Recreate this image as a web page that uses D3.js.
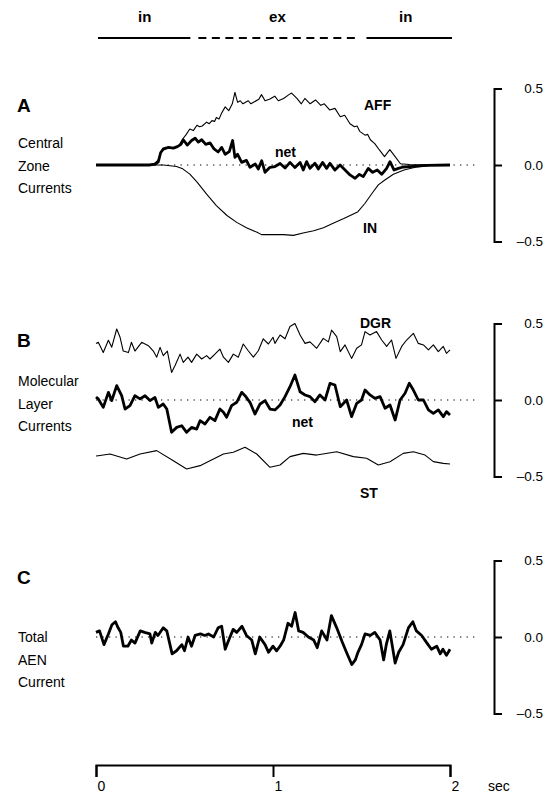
<!DOCTYPE html>
<html><head><meta charset="utf-8">
<script src="https://cdn.jsdelivr.net/npm/d3@7"></script>
<style>
body{margin:0;background:#fff}
svg{display:block}
text{font-family:"Liberation Sans",Arial,Helvetica,sans-serif;fill:#000}
</style>
</head><body>
<svg id="chart" width="553" height="799"></svg>
<script>
// ---------------- data ----------------
const timeTicks = [0, 1, 2];
const timeUnit = "sec";
const yTicks = [0.5, 0.0, -0.5];

const phaseLabels = ["in", "ex", "in"];
const phaseStart = [0, 0.55, 1.5];
const phaseEnd = [0.55, 1.5, 2.0];

const panelLetters = ["A", "B", "C"];
const panelTitles = [["Central", "Zone", "Currents"], ["Molecular", "Layer", "Currents"], ["Total", "AEN", "Current"]];

// Panel A: central zone currents  [time (s), current]
const aAFF = [[0,0],[0.32,0],[0.35,0.03],[0.37,0.09],[0.40,0.11],[0.44,0.11],[0.47,0.13],[0.49,0.17],[0.51,0.2],[0.53,0.235],[0.55,0.225],[0.57,0.26],[0.585,0.25],[0.60,0.255],[0.625,0.28],[0.64,0.27],[0.655,0.29],[0.67,0.285],[0.68,0.31],[0.695,0.30],[0.71,0.34],[0.73,0.38],[0.75,0.355],[0.77,0.40],[0.785,0.475],[0.80,0.41],[0.815,0.42],[0.83,0.40],[0.86,0.42],[0.875,0.40],[0.89,0.41],[0.92,0.43],[0.935,0.46],[0.955,0.42],[0.98,0.43],[1.01,0.45],[1.03,0.42],[1.06,0.435],[1.09,0.46],[1.105,0.47],[1.135,0.435],[1.16,0.40],[1.18,0.435],[1.21,0.40],[1.24,0.425],[1.27,0.39],[1.29,0.40],[1.32,0.36],[1.35,0.37],[1.38,0.315],[1.405,0.325],[1.435,0.27],[1.46,0.25],[1.475,0.255],[1.49,0.22],[1.52,0.195],[1.535,0.2],[1.55,0.165],[1.575,0.14],[1.60,0.10],[1.63,0.055],[1.66,0.10],[1.69,0.055],[1.72,0.008],[1.77,0.003],[2.0,0.002]];
const aIN = [[0,0],[0.38,0],[0.455,-0.01],[0.49,-0.025],[0.53,-0.06],[0.57,-0.11],[0.625,-0.19],[0.68,-0.265],[0.74,-0.33],[0.795,-0.375],[0.85,-0.41],[0.91,-0.44],[0.935,-0.455],[0.98,-0.455],[1.06,-0.455],[1.115,-0.46],[1.17,-0.445],[1.23,-0.43],[1.285,-0.41],[1.34,-0.38],[1.40,-0.35],[1.445,-0.325],[1.48,-0.305],[1.52,-0.25],[1.56,-0.185],[1.595,-0.13],[1.63,-0.10],[1.68,-0.06],[1.74,-0.033],[1.81,-0.013],[1.905,-0.002],[2.0,0]];
const aNet = [[0,0],[0.30,0],[0.333,0.005],[0.352,0.02],[0.365,0.08],[0.38,0.105],[0.41,0.115],[0.437,0.11],[0.46,0.12],[0.48,0.135],[0.493,0.165],[0.516,0.13],[0.54,0.16],[0.56,0.175],[0.578,0.15],[0.597,0.165],[0.62,0.135],[0.644,0.145],[0.667,0.105],[0.69,0.085],[0.71,0.115],[0.73,0.07],[0.753,0.087],[0.772,0.16],[0.785,0.05],[0.80,0.07],[0.823,0.017],[0.85,0.03],[0.87,-0.015],[0.90,0.007],[0.917,-0.026],[0.936,0.028],[0.955,-0.048],[0.983,-0.015],[1.011,-0.01],[1.04,0.01],[1.068,-0.02],[1.096,0.017],[1.124,-0.017],[1.153,0.017],[1.171,-0.033],[1.19,0.022],[1.209,-0.022],[1.237,0.011],[1.256,-0.026],[1.28,0.017],[1.303,-0.022],[1.322,0.011],[1.35,-0.033],[1.379,0],[1.407,-0.033],[1.435,-0.065],[1.464,-0.087],[1.488,-0.061],[1.51,-0.076],[1.538,-0.022],[1.563,-0.048],[1.589,-0.033],[1.614,-0.061],[1.642,-0.022],[1.661,0.022],[1.684,-0.033],[1.708,-0.022],[1.736,-0.013],[1.793,-0.009],[1.868,-0.002],[2.0,0]];

// Panel B: molecular layer currents
const bDGR = [[0.0,0.37],[0.013,0.377],[0.041,0.31],[0.07,0.39],[0.089,0.345],[0.117,0.464],[0.136,0.41],[0.154,0.32],[0.183,0.31],[0.20,0.377],[0.22,0.32],[0.258,0.377],[0.296,0.355],[0.324,0.32],[0.343,0.28],[0.362,0.344],[0.38,0.29],[0.403,0.32],[0.427,0.18],[0.446,0.224],[0.475,0.30],[0.493,0.246],[0.52,0.28],[0.54,0.246],[0.569,0.30],[0.597,0.268],[0.625,0.29],[0.644,0.268],[0.672,0.30],[0.70,0.333],[0.72,0.28],[0.748,0.246],[0.776,0.30],[0.804,0.28],[0.832,0.366],[0.86,0.322],[0.889,0.28],[0.917,0.322],[0.945,0.40],[0.974,0.366],[1.00,0.41],[1.011,0.37],[1.04,0.425],[1.068,0.40],[1.096,0.48],[1.124,0.50],[1.153,0.425],[1.181,0.37],[1.209,0.38],[1.247,0.338],[1.284,0.403],[1.313,0.38],[1.331,0.457],[1.36,0.414],[1.38,0.316],[1.407,0.36],[1.444,0.272],[1.473,0.338],[1.50,0.36],[1.52,0.447],[1.548,0.425],[1.585,0.447],[1.614,0.392],[1.642,0.35],[1.67,0.392],[1.695,0.272],[1.727,0.35],[1.755,0.392],[1.793,0.436],[1.821,0.37],[1.85,0.36],[1.878,0.327],[1.906,0.36],[1.934,0.316],[1.962,0.35],[1.98,0.305],[2.0,0.327]];
const bNet = [[0.0,0.02],[0.013,0.007],[0.041,-0.048],[0.07,0.05],[0.089,-0.004],[0.117,0.094],[0.145,0.028],[0.164,-0.059],[0.192,-0.037],[0.22,0.028],[0.249,0.007],[0.277,0.028],[0.305,-0.004],[0.333,0.017],[0.352,-0.048],[0.38,-0.026],[0.40,-0.059],[0.427,-0.211],[0.456,-0.179],[0.484,-0.168],[0.512,-0.211],[0.54,-0.179],[0.569,-0.19],[0.588,-0.135],[0.616,-0.157],[0.644,-0.113],[0.672,-0.135],[0.70,-0.059],[0.72,-0.08],[0.738,-0.113],[0.766,-0.037],[0.795,-0.015],[0.823,0.05],[0.842,0.028],[0.87,-0.015],[0.898,-0.092],[0.927,-0.026],[0.955,-0.004],[0.983,-0.059],[1.011,-0.065],[1.04,-0.033],[1.068,0.022],[1.096,0.087],[1.124,0.163],[1.153,0.054],[1.181,0.033],[1.209,0.022],[1.237,-0.011],[1.265,0.033],[1.294,0],[1.322,0.109],[1.35,0.098],[1.38,-0.044],[1.416,0],[1.444,-0.109],[1.473,-0.022],[1.50,0],[1.52,0.065],[1.548,0.033],[1.576,0.011],[1.605,0.022],[1.633,-0.054],[1.661,-0.033],[1.69,-0.131],[1.718,0],[1.746,0.044],[1.77,0.109],[1.793,0.065],[1.821,0],[1.85,0],[1.878,-0.065],[1.906,-0.087],[1.934,-0.065],[1.962,-0.109],[1.98,-0.076],[2.0,-0.098]];
const bST = [[0.0,-0.366],[0.013,-0.364],[0.079,-0.353],[0.173,-0.386],[0.249,-0.353],[0.343,-0.331],[0.437,-0.397],[0.512,-0.451],[0.588,-0.429],[0.644,-0.397],[0.72,-0.353],[0.776,-0.342],[0.842,-0.309],[0.908,-0.353],[0.983,-0.44],[1.04,-0.425],[1.096,-0.37],[1.171,-0.349],[1.247,-0.36],[1.36,-0.338],[1.454,-0.37],[1.529,-0.381],[1.595,-0.425],[1.661,-0.403],[1.736,-0.349],[1.793,-0.338],[1.859,-0.36],[1.906,-0.403],[1.962,-0.414],[2.0,-0.418]];

// Panel C: total AEN current
const cTotal = [[0.0,0.03],[0.02,0.04],[0.045,-0.05],[0.07,0.02],[0.09,0.08],[0.11,0.10],[0.125,0.06],[0.14,0.03],[0.155,-0.06],[0.18,-0.06],[0.20,-0.02],[0.22,-0.04],[0.25,0.04],[0.275,0.03],[0.305,0.02],[0.315,-0.04],[0.335,0.03],[0.35,0.01],[0.38,0.06],[0.40,0.04],[0.43,-0.11],[0.455,-0.09],[0.485,-0.05],[0.50,-0.09],[0.52,0],[0.54,-0.06],[0.56,0.01],[0.59,0.02],[0.615,0.01],[0.635,0.02],[0.665,0],[0.69,0.06],[0.71,0.07],[0.73,-0.08],[0.75,-0.02],[0.775,0.05],[0.795,0.03],[0.825,0.07],[0.85,0.01],[0.88,-0.02],[0.90,-0.11],[0.925,0],[0.955,-0.05],[0.975,-0.10],[1.00,-0.06],[1.02,-0.09],[1.04,-0.06],[1.06,-0.02],[1.085,0.09],[1.105,0.07],[1.125,0.16],[1.145,0.04],[1.17,0.03],[1.20,0],[1.23,-0.02],[1.25,-0.07],[1.275,0.04],[1.305,-0.02],[1.33,0.14],[1.36,0.06],[1.39,-0.03],[1.415,-0.10],[1.445,-0.18],[1.465,-0.15],[1.48,-0.10],[1.50,-0.05],[1.52,0.02],[1.55,0.01],[1.575,0.03],[1.605,-0.02],[1.625,-0.15],[1.64,-0.05],[1.66,0.04],[1.69,-0.17],[1.71,-0.10],[1.735,-0.05],[1.765,0.06],[1.79,0.10],[1.81,0.04],[1.84,0.01],[1.87,-0.04],[1.895,-0.08],[1.925,-0.06],[1.945,-0.11],[1.96,-0.08],[1.98,-0.12],[2.0,-0.08]];

// ---------------- layout ----------------
const svg = d3.select("#chart");
const FONT = 14;
const x = d3.scaleLinear().domain([0, 2]).range([96, 450]);
const panelZero = [165, 400, 637];
const halfSpan = 76.5;
const axisX = 494;

const yScales = panelZero.map(z => d3.scaleLinear().domain([-0.5, 0.5]).range([z + halfSpan, z - halfSpan]));

const panelSeries = [
  [{data: aAFF, w: 1.1, label: "AFF", lx: 364, ly: 110},
   {data: aIN, w: 1.1, label: "IN", lx: 363, ly: 233},
   {data: aNet, w: 2.8, label: "net", lx: 275, ly: 157}],
  [{data: bDGR, w: 1.1, label: "DGR", lx: 360, ly: 328},
   {data: bST, w: 1.1, label: "ST", lx: 360, ly: 498},
   {data: bNet, w: 2.8, label: "net", lx: 292, ly: 427}],
  [{data: cTotal, w: 2.8, label: null}]
];

// ---------------- top phase indicator ----------------
const topY = 38;
phaseLabels.forEach((lab, i) => {
  const x0 = x(phaseStart[i]) + (i === 0 ? 2 : 5);
  const x1 = x(phaseEnd[i]) + (i === 2 ? 2 : -3);
  svg.append("line")
    .attr("x1", x0).attr("x2", x1).attr("y1", topY).attr("y2", topY)
    .attr("stroke", "#000").attr("stroke-width", 2)
    .attr("stroke-dasharray", lab === "ex" ? "8,5.5" : null);
  svg.append("text")
    .attr("x", x((phaseStart[i] + phaseEnd[i]) / 2)).attr("y", 22)
    .attr("text-anchor", "middle").attr("font-weight", "bold").attr("font-size", 15)
    .text(lab);
});

// ---------------- panels ----------------
const line = y => d3.line().x(d => x(d[0])).y(d => y(d[1]));

panelZero.forEach((z, p) => {
  const y = yScales[p];
  const g = svg.append("g");

  // zero dotted line
  g.append("line")
    .attr("x1", x(0)).attr("x2", 477).attr("y1", y(0)).attr("y2", y(0))
    .attr("stroke", "#000").attr("stroke-width", 1.2)
    .attr("stroke-dasharray", "1.3,5.2");

  // series
  panelSeries[p].forEach(s => {
    g.append("path")
      .datum(s.data)
      .attr("d", line(y))
      .attr("fill", "none").attr("stroke", "#000")
      .attr("stroke-width", s.w).attr("stroke-linejoin", "round");
    if (s.label) {
      g.append("text").attr("x", s.lx).attr("y", s.ly)
        .attr("font-weight", "bold").attr("font-size", FONT).text(s.label);
    }
  });

  // right axis
  const ax = g.append("g").attr("transform", `translate(${axisX},0)`)
    .call(d3.axisRight(y).tickValues(yTicks).tickSize(8).tickSizeOuter(8)
      .tickFormat(d => d3.format(".1f")(d).replace("\u2212", "\u2013")));
  ax.select(".domain").attr("stroke-width", 2);
  ax.selectAll(".tick line").attr("stroke-width", 2);
  ax.selectAll(".tick text").attr("x", 49).attr("text-anchor", "end")
    .attr("font-size", 13.5).attr("font-family", null);

  // panel letter and title
  g.append("text").attr("x", 17).attr("y", z - 60 + 6.5)
    .attr("font-weight", "bold").attr("font-size", 19).text(panelLetters[p]);
  const title = panelTitles[p];
  const startY = p === 2 ? z : (p === 1 ? z - 19 : z - 22);
  title.forEach((t, i) => {
    g.append("text").attr("x", 18).attr("y", startY + i * 22.5 + 5)
      .attr("font-size", FONT).text(t);
  });
});

// ---------------- bottom time axis ----------------
const bx = svg.append("g").attr("transform", "translate(0,765)")
  .call(d3.axisBottom(x).tickValues(timeTicks).tickSize(12).tickSizeOuter(12).tickFormat(d3.format("d")));
bx.select(".domain").attr("stroke-width", 2);
bx.selectAll(".tick line").attr("stroke-width", 2);
bx.selectAll(".tick text").attr("y", 16).attr("dx", 5).attr("font-size", FONT).attr("font-family", null);
svg.append("text").attr("x", 488).attr("y", 791).attr("font-size", FONT).text(timeUnit);
</script>
</body></html>
